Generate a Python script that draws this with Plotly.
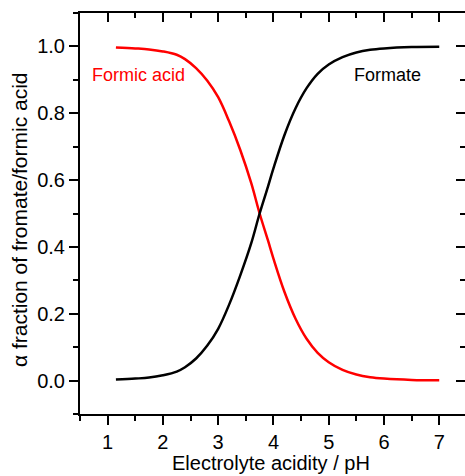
import plotly.graph_objects as go

ph = [1.15, 1.5, 1.75, 2.0, 2.25, 2.4, 2.6, 2.8, 3.0, 3.2, 3.4, 3.6, 3.75, 3.9, 4.0,
      4.2, 4.4, 4.6, 4.8, 5.0, 5.25, 5.5, 5.75, 6.0, 6.5, 7.0]
formic_acid = [0.997, 0.994, 0.991, 0.985, 0.975, 0.962, 0.935, 0.898, 0.848, 0.775, 0.69,
               0.59, 0.50, 0.42, 0.365, 0.265, 0.185, 0.125, 0.083, 0.055, 0.032, 0.018,
               0.010, 0.006, 0.002, 0.001]
formate = [0.003, 0.006, 0.009, 0.016, 0.027, 0.040, 0.066, 0.104, 0.155, 0.228, 0.315,
           0.412, 0.50, 0.58, 0.635, 0.735, 0.815, 0.875, 0.918, 0.946, 0.968, 0.982,
           0.990, 0.994, 0.998, 0.999]

x_ticks = [1, 2, 3, 4, 5, 6, 7]
y_ticks = [0.0, 0.2, 0.4, 0.6, 0.8, 1.0]
y_ticklabels = ["0.0", "0.2", "0.4", "0.6", "0.8", "1.0"]

XR = [0.5, 7.466]
YR = [-0.1, 1.1]
FONT = "Liberation Sans, Arial, sans-serif"

fig = go.Figure()
fig.add_trace(go.Scatter(x=ph, y=formic_acid, mode="lines", line=dict(color="#ff0000", width=2.5, shape="spline"),
                         showlegend=False, hoverinfo="skip"))
fig.add_trace(go.Scatter(x=ph, y=formate, mode="lines", line=dict(color="#000000", width=2.5, shape="spline"),
                         xaxis="x2", yaxis="y2", showlegend=False, hoverinfo="skip"))

common = dict(showgrid=False, zeroline=False, tickcolor="black", tickwidth=1.5, ticklen=9,
              tickfont=dict(family=FONT, size=20, color="black"))

fig.update_layout(
    width=465, height=476,
    margin=dict(l=80, r=0, t=13, b=62),
    paper_bgcolor="white", plot_bgcolor="white",
    xaxis=dict(range=XR, tickvals=x_ticks, ticks="outside", showline=True, linecolor="black", linewidth=2,
               minor=dict(ticks="outside", dtick=0.5, tick0=0.5, ticklen=5, tickwidth=1.5, tickcolor="black"),
               **common),
    yaxis=dict(range=YR, tickvals=y_ticks, ticktext=y_ticklabels, ticks="outside", showline=True,
               linecolor="black", linewidth=2,
               minor=dict(ticks="outside", dtick=0.1, tick0=0, ticklen=5, tickwidth=1.5, tickcolor="black"),
               **common),
    xaxis2=dict(range=XR, tickvals=x_ticks, ticks="inside", side="top", overlaying="x", anchor="y2",
                showline=True, linecolor="black", linewidth=2, showticklabels=False,
                minor=dict(ticks="inside", dtick=0.5, tick0=0.5, ticklen=5, tickwidth=1.5, tickcolor="black"),
                **common),
    yaxis2=dict(range=YR, tickvals=y_ticks, ticks="inside", side="right", overlaying="y", anchor="x2",
                showline=False, showticklabels=False,
                minor=dict(ticks="inside", dtick=0.1, tick0=0, ticklen=5, tickwidth=1.5, tickcolor="black"),
                **common),
    annotations=[
        dict(text="Formic acid", x=1.567, y=0.9136, xref="x", yref="y", showarrow=False,
             font=dict(family=FONT, size=18, color="#ff0000")),
        dict(text="Formate", x=6.06, y=0.9136, xref="x", yref="y", showarrow=False,
             font=dict(family=FONT, size=18, color="black")),
        dict(text="Electrolyte acidity / pH", x=0.496, y=1.0, xref="paper", yref="paper",
             xanchor="center", yanchor="bottom", yshift=-476 + 13 + 0, showarrow=False,
             font=dict(family=FONT, size=20, color="black")),
        dict(text="α fraction of fromate/formic acid", x=-0.157, y=0.485, xref="paper", yref="paper",
             xanchor="center", yanchor="middle", textangle=-90, showarrow=False,
             font=dict(family=FONT, size=21, color="black")),
    ],
)

fig.write_html("out.html")
